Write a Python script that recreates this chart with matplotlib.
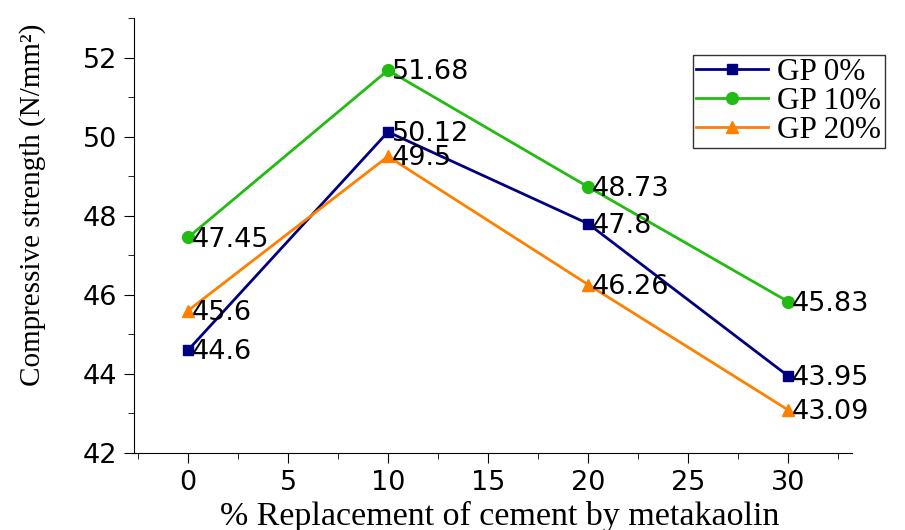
import matplotlib
matplotlib.use("Agg")
import matplotlib.pyplot as plt
from matplotlib.ticker import MultipleLocator

x = [0, 10, 20, 30]
gp0 = [44.6, 50.12, 47.8, 43.95]
gp10 = [47.45, 51.68, 48.73, 45.83]
gp20 = [45.6, 49.5, 46.26, 43.09]
labels = ["GP 0%", "GP 10%", "GP 20%"]

fig = plt.figure(figsize=(9.05, 5.3), dpi=100)
ax = fig.add_axes([134/905, 77/530, (852-134)/905, (453-18)/530])

serif = ["Liberation Serif", "DejaVu Serif"]
sans = ["DejaVu Sans"]

series = [(gp0, "#000080", "s", 7), (gp10, "#22BB11", "o", 8.5), (gp20, "#FF8000", "^", 9)]
for (vals, col, mk, ms), lab in zip(series, labels):
    ax.plot(x, vals, color=col, marker=mk, markersize=ms, linewidth=2, label=lab)
    for xi, yi in zip(x, vals):
        ax.annotate(f"{yi:g}", (xi, yi), xytext=(3, -1.5), textcoords="offset points",
                    va="center", ha="left", fontsize=19.5, family=sans)

ax.set_xlim(-2.7, 33.2)
ax.set_ylim(42, 53)
ax.xaxis.set_major_locator(MultipleLocator(5))
ax.xaxis.set_minor_locator(MultipleLocator(2.5))
ax.set_yticks([42, 44, 46, 48, 50, 52])
ax.yaxis.set_minor_locator(MultipleLocator(1))
ax.spines["top"].set_visible(False)
ax.spines["right"].set_visible(False)
ax.tick_params(which="major", direction="out", length=7, labelsize=19.5, pad=5)
ax.tick_params(which="minor", direction="out", length=4)
for lbl in ax.get_xticklabels() + ax.get_yticklabels():
    lbl.set_family(sans)

fig.text(500/905, 1 - 516/530, "% Replacement of cement by metakaolin", fontsize=24.5,
         family=serif, ha="center", va="center")
fig.text(33/905, 1 - 205/530, "Compressive strength (N/mm²)", fontsize=21,
         family=serif, ha="center", va="center", rotation=90)

leg = ax.legend(loc="upper left", bbox_to_anchor=(693/905, 1-55/530), bbox_transform=fig.transFigure,
                prop={"family": serif, "size": 22.5}, frameon=True, fancybox=False,
                edgecolor="black", handlelength=2.3, borderpad=0.1, labelspacing=0.0,
                handletextpad=0.3, borderaxespad=0)
leg.get_frame().set_linewidth(1)

fig.savefig("out.png", dpi=100)
